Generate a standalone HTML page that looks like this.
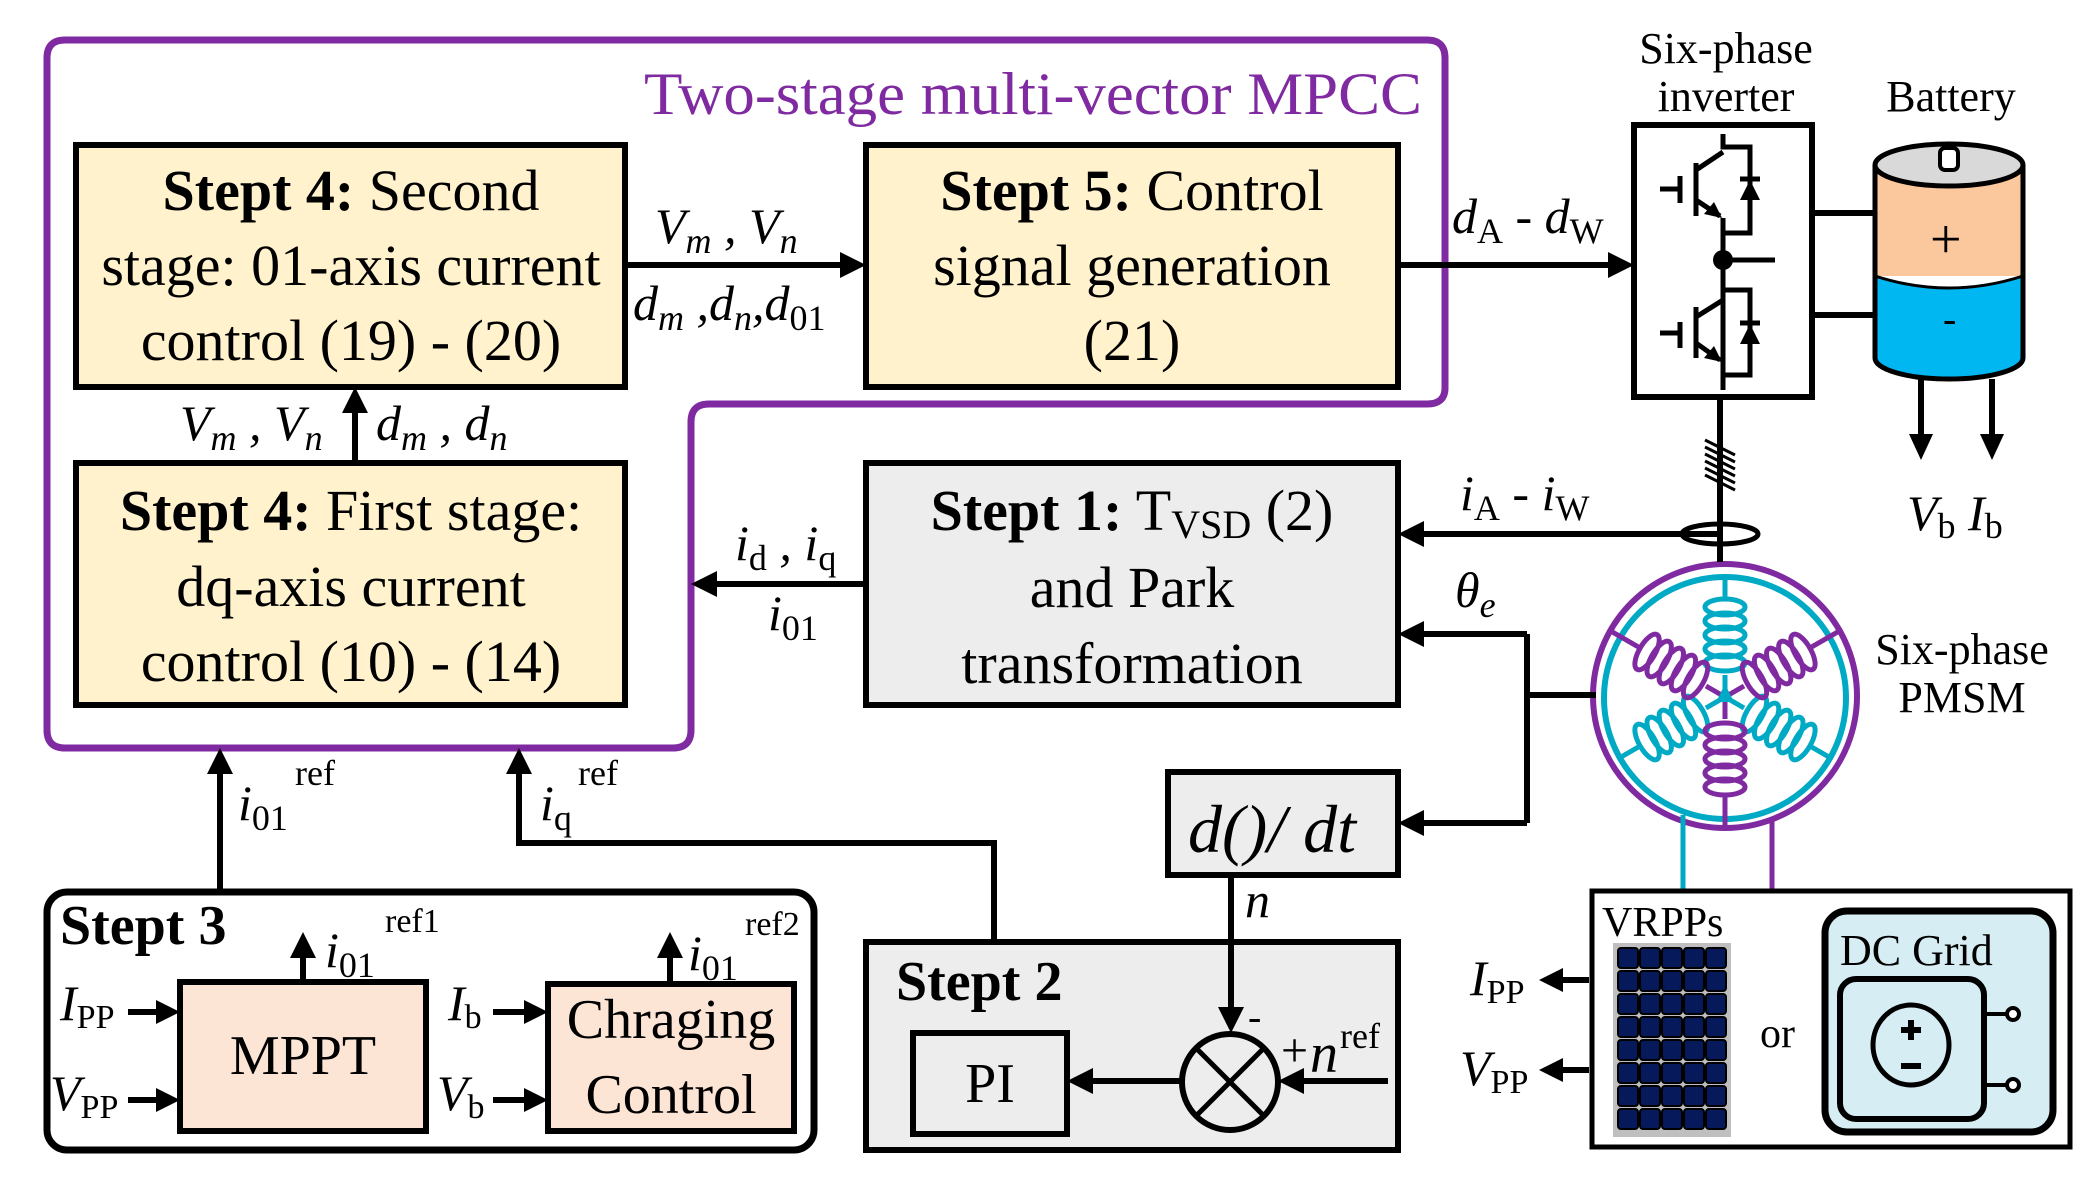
<!DOCTYPE html>
<html><head><meta charset="utf-8"><style>
html,body{margin:0;padding:0;background:#fff;width:2094px;height:1177px;overflow:hidden}
svg{display:block}
svg text{font-family:"Liberation Serif","Times New Roman",Times,serif;fill:#000}
.b{font-weight:bold}
.i{font-style:italic}
</style></head><body>
<svg width="2094" height="1177" viewBox="0 0 2094 1177" xmlns="http://www.w3.org/2000/svg" font-family="'Liberation Serif','Times New Roman',Times,serif">

<!-- Purple MPCC outline -->
<path d="M47,58 Q47,40 65,40 L1427,40 Q1445,40 1445,58 L1445,388 Q1445,404 1427,404 L709,404 Q691,404 691,422 L691,730 Q691,748 673,748 L65,748 Q47,748 47,730 Z" fill="none" stroke="#7f2aa0" stroke-width="7"/>
<text x="644" y="114" font-size="60" style="fill:#7f2aa0" textLength="778" lengthAdjust="spacingAndGlyphs">Two-stage multi-vector MPCC</text>

<!-- Step 4 second -->
<rect x="76" y="145" width="549" height="242" fill="#fff2cc" stroke="#000" stroke-width="6"/>
<text font-size="58" text-anchor="middle"><tspan x="351" y="210"><tspan class="b">Stept 4:</tspan> Second</tspan><tspan x="351" y="285">stage: 01-axis current</tspan><tspan x="351" y="360">control (19) - (20)</tspan></text>

<!-- Step 4 first -->
<rect x="76" y="463" width="549" height="242" fill="#fff2cc" stroke="#000" stroke-width="6"/>
<text font-size="58" text-anchor="middle"><tspan x="351" y="530"><tspan class="b">Stept 4:</tspan> First stage:</tspan><tspan x="351" y="606">dq-axis current</tspan><tspan x="351" y="681">control (10) - (14)</tspan></text>

<!-- Step 5 -->
<rect x="866" y="145" width="532" height="242" fill="#fff2cc" stroke="#000" stroke-width="6"/>
<text font-size="58" text-anchor="middle"><tspan x="1132" y="210"><tspan class="b">Stept 5:</tspan> Control</tspan><tspan x="1132" y="285">signal generation</tspan><tspan x="1132" y="360">(21)</tspan></text>

<!-- Step 1 -->
<rect x="866" y="463" width="532" height="242" fill="#ededed" stroke="#000" stroke-width="6"/>
<text font-size="58" text-anchor="middle"><tspan x="1132" y="530"><tspan class="b">Stept 1:</tspan>  T<tspan font-size="40" dy="8">VSD</tspan><tspan dy="-8"> (2)</tspan></tspan><tspan x="1132" y="607">and Park</tspan><tspan x="1132" y="683">transformation</tspan></text>

<!-- inverter -->
<rect x="1634" y="125" width="178" height="272" fill="#fff" stroke="#000" stroke-width="6"/>
<g stroke="#000" stroke-width="5" fill="none">
<polyline points="1723,134 1723,147 1750,147 1750,233 1723,233 1723,218"/>
<polyline points="1723,152 1696,170"/>
<line x1="1696" y1="163" x2="1696" y2="216"/>
<line x1="1680" y1="176" x2="1680" y2="203"/>
<line x1="1660" y1="189" x2="1680" y2="189"/>
<line x1="1696" y1="200" x2="1720" y2="216"/>
<line x1="1723" y1="218" x2="1723" y2="390"/>
<polyline points="1723,290 1750,290 1750,375 1723,375"/>
<line x1="1723" y1="300" x2="1696" y2="317"/>
<line x1="1696" y1="307" x2="1696" y2="358"/>
<line x1="1680" y1="322" x2="1680" y2="348"/>
<line x1="1660" y1="333" x2="1680" y2="333"/>
<line x1="1696" y1="343" x2="1720" y2="360"/>
<line x1="1723" y1="260" x2="1775" y2="260"/>
<line x1="1740" y1="179" x2="1760" y2="179"/>
<line x1="1740" y1="323" x2="1760" y2="323"/>
</g>
<g fill="#000">
<circle cx="1723" cy="260" r="10"/>
<polygon points="1750,180 1740,200 1760,200"/>
<polygon points="1750,324 1740,344 1760,344"/>
<polygon points="1722,218 1704,214 1714,202"/>
<polygon points="1722,362 1704,358 1714,346"/>
</g>

<!-- battery -->
<path d="M1875,165 L1875,276 L2023,276 L2023,165 Z" fill="#fbc79c"/>
<path d="M1875,276 Q1949,300 2023,276 L2023,358 A74,21 0 0 1 1875,358 Z" fill="#00b7f1"/>
<path d="M1875,276 Q1949,300 2023,276" fill="none" stroke="#000" stroke-width="3"/>
<path d="M1875,165 L1875,358 A74,21 0 0 0 2023,358 L2023,165" fill="none" stroke="#000" stroke-width="5"/>
<ellipse cx="1949" cy="165" rx="74" ry="21" fill="#d9d9d9" stroke="#000" stroke-width="5"/>
<rect x="1940" y="148" width="18" height="22" rx="5" fill="#fff" stroke="#000" stroke-width="4"/>
<text font-size="56" x="1930" y="258">+</text>
<text font-size="40" x="1943" y="332">-</text>

<!-- hash marks on motor line -->
<g stroke="#000" stroke-width="3">
<line x1="1705" y1="440" x2="1735" y2="455"/><line x1="1705" y1="447" x2="1735" y2="462"/>
<line x1="1705" y1="454" x2="1735" y2="469"/><line x1="1705" y1="461" x2="1735" y2="476"/>
<line x1="1705" y1="468" x2="1735" y2="483"/><line x1="1705" y1="475" x2="1735" y2="490"/>
</g>

<!-- motor -->
<circle cx="1725" cy="696" r="132" fill="#fff" stroke="#7f2aa0" stroke-width="6"/>
<circle cx="1725" cy="698" r="121" fill="none" stroke="#00aac4" stroke-width="6"/>
<g fill="none" stroke-width="5">
<g transform="translate(1725,697) rotate(-90)" stroke="#00aac4"><line x1="0" y1="0" x2="22" y2="0"/><ellipse cx="34" cy="0" rx="8" ry="20"/><ellipse cx="48" cy="0" rx="8" ry="20"/><ellipse cx="62" cy="0" rx="8" ry="20"/><ellipse cx="76" cy="0" rx="8" ry="20"/><ellipse cx="90" cy="0" rx="8" ry="20"/><line x1="98" y1="0" x2="121" y2="0"/></g>
<g transform="translate(1725,697) rotate(150)" stroke="#00aac4"><line x1="0" y1="0" x2="22" y2="0"/><ellipse cx="34" cy="0" rx="8" ry="20"/><ellipse cx="48" cy="0" rx="8" ry="20"/><ellipse cx="62" cy="0" rx="8" ry="20"/><ellipse cx="76" cy="0" rx="8" ry="20"/><ellipse cx="90" cy="0" rx="8" ry="20"/><line x1="98" y1="0" x2="121" y2="0"/></g>
<g transform="translate(1725,697) rotate(30)" stroke="#00aac4"><line x1="0" y1="0" x2="22" y2="0"/><ellipse cx="34" cy="0" rx="8" ry="20"/><ellipse cx="48" cy="0" rx="8" ry="20"/><ellipse cx="62" cy="0" rx="8" ry="20"/><ellipse cx="76" cy="0" rx="8" ry="20"/><ellipse cx="90" cy="0" rx="8" ry="20"/><line x1="98" y1="0" x2="121" y2="0"/></g>
<g transform="translate(1725,697) rotate(-30)" stroke="#7f2aa0"><line x1="0" y1="0" x2="22" y2="0"/><ellipse cx="34" cy="0" rx="8" ry="20"/><ellipse cx="48" cy="0" rx="8" ry="20"/><ellipse cx="62" cy="0" rx="8" ry="20"/><ellipse cx="76" cy="0" rx="8" ry="20"/><ellipse cx="90" cy="0" rx="8" ry="20"/><line x1="98" y1="0" x2="132" y2="0"/></g>
<g transform="translate(1725,697) rotate(-150)" stroke="#7f2aa0"><line x1="0" y1="0" x2="22" y2="0"/><ellipse cx="34" cy="0" rx="8" ry="20"/><ellipse cx="48" cy="0" rx="8" ry="20"/><ellipse cx="62" cy="0" rx="8" ry="20"/><ellipse cx="76" cy="0" rx="8" ry="20"/><ellipse cx="90" cy="0" rx="8" ry="20"/><line x1="98" y1="0" x2="132" y2="0"/></g>
<g transform="translate(1725,697) rotate(90)" stroke="#7f2aa0"><line x1="0" y1="0" x2="22" y2="0"/><ellipse cx="34" cy="0" rx="8" ry="20"/><ellipse cx="48" cy="0" rx="8" ry="20"/><ellipse cx="62" cy="0" rx="8" ry="20"/><ellipse cx="76" cy="0" rx="8" ry="20"/><ellipse cx="90" cy="0" rx="8" ry="20"/><line x1="98" y1="0" x2="132" y2="0"/></g>
</g>
<polygon points="1725,684 1716,702 1734,702" fill="#00aac4"/>
<line x1="1683" y1="815" x2="1683" y2="889" stroke="#00aac4" stroke-width="5"/>
<line x1="1772" y1="818" x2="1772" y2="889" stroke="#7f2aa0" stroke-width="5"/>

<!-- d()/dt -->
<rect x="1168" y="772" width="230" height="103" fill="#ededed" stroke="#000" stroke-width="6"/>
<text class="i" font-size="68" x="1188" y="852">d()/ dt</text>
<text class="i" font-size="50" x="1245" y="917">n</text>

<!-- Step 2 -->
<rect x="866" y="942" width="532" height="208" fill="#ededed" stroke="#000" stroke-width="6"/>
<text class="b" font-size="56" x="896" y="1000">Stept 2</text>
<rect x="913" y="1033" width="154" height="101" fill="#ededed" stroke="#000" stroke-width="6"/>
<text font-size="56" x="990" y="1102" text-anchor="middle">PI</text>
<circle cx="1230" cy="1082" r="48" fill="none" stroke="#000" stroke-width="6"/>
<g stroke="#000" stroke-width="5"><line x1="1196" y1="1048" x2="1264" y2="1116"/><line x1="1264" y1="1048" x2="1196" y2="1116"/></g>
<text font-size="40" x="1248" y="1030">-</text>
<text font-size="48" x="1281" y="1066">+</text>
<text class="i" font-size="56" x="1310" y="1072">n</text>
<text font-size="36" x="1340" y="1048">ref</text>

<!-- Step 3 -->
<rect x="47" y="892" width="767" height="258" rx="20" fill="#fff" stroke="#000" stroke-width="7"/>
<text class="b" font-size="56" x="60" y="944">Stept 3</text>
<rect x="180" y="982" width="246" height="149" fill="#fde5d6" stroke="#000" stroke-width="6"/>
<text font-size="56" x="303" y="1074" text-anchor="middle">MPPT</text>
<rect x="548" y="984" width="246" height="147" fill="#fde5d6" stroke="#000" stroke-width="6"/>
<text font-size="56" x="671" y="1038" text-anchor="middle">Chraging</text>
<text font-size="56" x="671" y="1113" text-anchor="middle">Control</text>
<text class="i" font-size="50" x="325" y="967">i<tspan font-size="36" dy="10" font-style="normal">01</tspan></text>
<text font-size="34" x="385" y="932">ref1</text>
<text class="i" font-size="50" x="688" y="970">i<tspan font-size="36" dy="10" font-style="normal">01</tspan></text>
<text font-size="34" x="745" y="935">ref2</text>
<text class="i" font-size="50" x="60" y="1020">I<tspan font-size="34" dy="8" font-style="normal">PP</tspan></text>
<text class="i" font-size="50" x="50" y="1110">V<tspan font-size="34" dy="8" font-style="normal">PP</tspan></text>
<text class="i" font-size="50" x="448" y="1020">I<tspan font-size="34" dy="8" font-style="normal">b</tspan></text>
<text class="i" font-size="50" x="437" y="1110">V<tspan font-size="34" dy="8" font-style="normal">b</tspan></text>

<!-- source box -->
<rect x="1592" y="891" width="478" height="256" fill="#fff" stroke="#000" stroke-width="5"/>
<text font-size="42" x="1602" y="936">VRPPs</text>
<rect x="1613" y="943" width="118" height="194" fill="#bfbfbf"/>
<g fill="#06195a" stroke="#000" stroke-width="2">
<rect x="1618" y="948" width="20" height="20" rx="3"/><rect x="1640" y="948" width="20" height="20" rx="3"/><rect x="1662" y="948" width="20" height="20" rx="3"/><rect x="1684" y="948" width="20" height="20" rx="3"/><rect x="1706" y="948" width="20" height="20" rx="3"/>
<rect x="1618" y="971" width="20" height="20" rx="3"/><rect x="1640" y="971" width="20" height="20" rx="3"/><rect x="1662" y="971" width="20" height="20" rx="3"/><rect x="1684" y="971" width="20" height="20" rx="3"/><rect x="1706" y="971" width="20" height="20" rx="3"/>
<rect x="1618" y="994" width="20" height="20" rx="3"/><rect x="1640" y="994" width="20" height="20" rx="3"/><rect x="1662" y="994" width="20" height="20" rx="3"/><rect x="1684" y="994" width="20" height="20" rx="3"/><rect x="1706" y="994" width="20" height="20" rx="3"/>
<rect x="1618" y="1017" width="20" height="20" rx="3"/><rect x="1640" y="1017" width="20" height="20" rx="3"/><rect x="1662" y="1017" width="20" height="20" rx="3"/><rect x="1684" y="1017" width="20" height="20" rx="3"/><rect x="1706" y="1017" width="20" height="20" rx="3"/>
<rect x="1618" y="1040" width="20" height="20" rx="3"/><rect x="1640" y="1040" width="20" height="20" rx="3"/><rect x="1662" y="1040" width="20" height="20" rx="3"/><rect x="1684" y="1040" width="20" height="20" rx="3"/><rect x="1706" y="1040" width="20" height="20" rx="3"/>
<rect x="1618" y="1063" width="20" height="20" rx="3"/><rect x="1640" y="1063" width="20" height="20" rx="3"/><rect x="1662" y="1063" width="20" height="20" rx="3"/><rect x="1684" y="1063" width="20" height="20" rx="3"/><rect x="1706" y="1063" width="20" height="20" rx="3"/>
<rect x="1618" y="1086" width="20" height="20" rx="3"/><rect x="1640" y="1086" width="20" height="20" rx="3"/><rect x="1662" y="1086" width="20" height="20" rx="3"/><rect x="1684" y="1086" width="20" height="20" rx="3"/><rect x="1706" y="1086" width="20" height="20" rx="3"/>
<rect x="1618" y="1109" width="20" height="20" rx="3"/><rect x="1640" y="1109" width="20" height="20" rx="3"/><rect x="1662" y="1109" width="20" height="20" rx="3"/><rect x="1684" y="1109" width="20" height="20" rx="3"/><rect x="1706" y="1109" width="20" height="20" rx="3"/>
</g>
<text font-size="42" x="1760" y="1047">or</text>
<rect x="1825" y="911" width="228" height="221" rx="22" fill="#d5edf3" stroke="#000" stroke-width="7"/>
<text font-size="44" x="1840" y="965">DC Grid</text>
<rect x="1840" y="979" width="144" height="140" rx="16" fill="#d5edf3" stroke="#000" stroke-width="6"/>
<ellipse cx="1911" cy="1045" rx="38" ry="40" fill="none" stroke="#000" stroke-width="5"/>
<g stroke="#000" stroke-width="6"><line x1="1911" y1="1020" x2="1911" y2="1040"/><line x1="1901" y1="1030" x2="1921" y2="1030"/><line x1="1901" y1="1066" x2="1921" y2="1066"/></g>
<g stroke="#000" stroke-width="4" fill="#fff"><line x1="1984" y1="1014" x2="2007" y2="1014"/><line x1="1984" y1="1085" x2="2007" y2="1085"/><circle cx="2013" cy="1014" r="6"/><circle cx="2013" cy="1085" r="6"/></g>
<text class="i" font-size="50" x="1470" y="995">I<tspan font-size="34" dy="8" font-style="normal">PP</tspan></text>
<text class="i" font-size="50" x="1460" y="1085">V<tspan font-size="34" dy="8" font-style="normal">PP</tspan></text>

<!-- connectors (drawn last) -->
<g stroke="#000" stroke-width="6" fill="none">
<line x1="625" y1="265" x2="845" y2="265"/>
<line x1="1398" y1="265" x2="1615" y2="265"/>
<line x1="355" y1="460" x2="355" y2="405"/>
<line x1="866" y1="584" x2="712" y2="584"/>
<line x1="1720" y1="534" x2="1418" y2="534"/>
<line x1="1596" y1="695" x2="1527" y2="695"/>
<polyline points="1527,634 1527,823"/>
<line x1="1527" y1="634" x2="1418" y2="634"/>
<line x1="1527" y1="823" x2="1418" y2="823"/>
<line x1="1231" y1="875" x2="1231" y2="1014"/>
<line x1="1388" y1="1081" x2="1298" y2="1081"/>
<line x1="1182" y1="1081" x2="1087" y2="1081"/>
<polyline points="994,940 994,843 519,843 519,768"/>
<line x1="220" y1="890" x2="220" y2="768"/>
<line x1="303" y1="980" x2="303" y2="952"/>
<line x1="670" y1="984" x2="670" y2="952"/>
<line x1="128" y1="1012" x2="162" y2="1012"/>
<line x1="128" y1="1100" x2="162" y2="1100"/>
<line x1="493" y1="1012" x2="530" y2="1012"/>
<line x1="493" y1="1100" x2="530" y2="1100"/>
<line x1="1589" y1="980" x2="1558" y2="980"/>
<line x1="1589" y1="1070" x2="1558" y2="1070"/>
<line x1="1921" y1="379" x2="1921" y2="440"/>
<line x1="1992" y1="379" x2="1992" y2="440"/>
<line x1="1720" y1="400" x2="1720" y2="562"/>
<line x1="1815" y1="213" x2="1875" y2="213"/>
<line x1="1815" y1="315" x2="1875" y2="315"/>
</g>
<ellipse cx="1720" cy="534" rx="38" ry="10" fill="none" stroke="#000" stroke-width="5"/>
<g fill="#000">
<polygon points="866,265 840,252 840,278"/>
<polygon points="1634,265 1608,252 1608,278"/>
<polygon points="355,387 342,413 368,413"/>
<polygon points="691,584 717,571 717,597"/>
<polygon points="1398,534 1424,521 1424,547"/>
<polygon points="1398,634 1424,621 1424,647"/>
<polygon points="1398,823 1424,810 1424,836"/>
<polygon points="1231,1033 1218,1007 1244,1007"/>
<polygon points="1278,1081 1304,1068 1304,1094"/>
<polygon points="1067,1081 1093,1068 1093,1094"/>
<polygon points="519,748 506,774 532,774"/>
<polygon points="220,748 207,774 233,774"/>
<polygon points="303,932 290,958 316,958"/>
<polygon points="670,932 657,958 683,958"/>
<polygon points="180,1012 156,1000 156,1024"/>
<polygon points="180,1100 156,1088 156,1112"/>
<polygon points="548,1012 524,1000 524,1024"/>
<polygon points="548,1100 524,1088 524,1112"/>
<polygon points="1539,980 1563,968 1563,992"/>
<polygon points="1539,1070 1563,1058 1563,1082"/>
<polygon points="1921,460 1909,434 1933,434"/>
<polygon points="1992,460 1980,434 2004,434"/>
</g>

<!-- labels -->
<text class="i" font-size="50" x="655" y="243">V<tspan font-size="36" dy="10">m</tspan><tspan dy="-10"> , V</tspan><tspan font-size="36" dy="10">n</tspan></text>
<text class="i" font-size="50" x="633" y="320">d<tspan font-size="36" dy="10">m</tspan><tspan dy="-10"> ,d</tspan><tspan font-size="36" dy="10">n</tspan><tspan dy="-10">,d</tspan><tspan font-size="36" dy="10" font-style="normal">01</tspan></text>
<text class="i" font-size="50" x="180" y="440">V<tspan font-size="36" dy="10">m</tspan><tspan dy="-10"> , V</tspan><tspan font-size="36" dy="10">n</tspan></text>
<text class="i" font-size="50" x="376" y="440">d<tspan font-size="36" dy="10">m</tspan><tspan dy="-10"> , d</tspan><tspan font-size="36" dy="10">n</tspan></text>
<text class="i" font-size="50" x="735" y="560">i<tspan font-size="36" dy="10" font-style="normal">d</tspan><tspan dy="-10"> , i</tspan><tspan font-size="36" dy="10" font-style="normal">q</tspan></text>
<text class="i" font-size="50" x="768" y="630">i<tspan font-size="36" dy="10" font-style="normal">01</tspan></text>
<text class="i" font-size="50" x="1452" y="233">d<tspan font-size="36" dy="10" font-style="normal">A</tspan><tspan dy="-10" font-style="normal"> - </tspan>d<tspan font-size="36" dy="10" font-style="normal">W</tspan></text>
<text class="i" font-size="50" x="1460" y="510">i<tspan font-size="36" dy="10" font-style="normal">A</tspan><tspan dy="-10" font-style="normal"> - </tspan>i<tspan font-size="36" dy="10" font-style="normal">W</tspan></text>
<text class="i" font-size="50" x="1455" y="607">θ<tspan font-size="36" dy="10">e</tspan></text>
<text class="i" font-size="50" x="1907" y="530">V<tspan font-size="36" dy="8" font-style="normal">b</tspan><tspan dy="-8"> I</tspan><tspan font-size="36" dy="8" font-style="normal">b</tspan></text>
<text font-size="44" text-anchor="middle" x="1726" y="63">Six-phase</text>
<text font-size="44" text-anchor="middle" x="1726" y="111">inverter</text>
<text font-size="44" text-anchor="middle" x="1951" y="111">Battery</text>
<text font-size="44" text-anchor="middle" x="1962" y="664">Six-phase</text>
<text font-size="44" text-anchor="middle" x="1962" y="712">PMSM</text>
<text class="i" font-size="50" x="238" y="820">i<tspan font-size="36" dy="10" font-style="normal">01</tspan></text>
<text font-size="36" x="295" y="785">ref</text>
<text class="i" font-size="50" x="540" y="820">i<tspan font-size="36" dy="10" font-style="normal">q</tspan></text>
<text font-size="36" x="578" y="785">ref</text>
</svg>
</body></html>
